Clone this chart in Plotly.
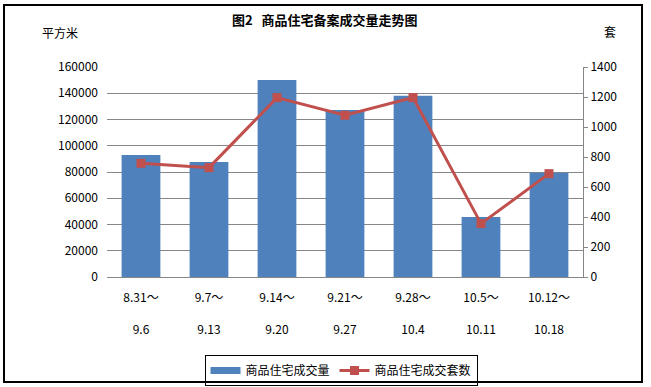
import plotly.graph_objects as go

categories = ["8.31～<br><br>9.6", "9.7～<br><br>9.13", "9.14～<br><br>9.20", "9.21～<br><br>9.27",
              "9.28～<br><br>10.4", "10.5～<br><br>10.11", "10.12～<br><br>10.18"]
area_values = [93000, 87600, 150100, 127200, 138100, 45700, 79500]
unit_values = [758, 729, 1196, 1078, 1196, 356, 689]

FONT = "Noto Sans CJK SC"
W, H = 651, 387
L, R, T, B = 107, 583, 67, 277

def px2x(px):
    return (px - L) / (R - L)

def px2y(py):
    return (B - py) / (B - T)

xs = list(range(len(categories)))

fig = go.Figure()
fig.add_trace(go.Bar(
    x=xs, y=area_values, name="商品住宅成交量", showlegend=False,
    marker=dict(color="#4F81BD", line=dict(width=0)), yaxis="y",
))
# legend proxy for the bars (wide rectangle swatch)
fig.add_trace(go.Scatter(
    x=[None], y=[None], name="商品住宅成交量", mode="lines",
    line=dict(color="#4F81BD", width=7), yaxis="y",
))
fig.add_trace(go.Scatter(
    x=xs, y=unit_values, name="商品住宅成交套数",
    mode="lines+markers", yaxis="y2",
    line=dict(color="#C0504D", width=3),
    marker=dict(symbol="square", size=9, color="#C0504D"),
))

fig.update_layout(
    width=W, height=H,
    margin=dict(l=L, r=W - R, t=T, b=H - B, autoexpand=False),
    paper_bgcolor="white", plot_bgcolor="white",
    font=dict(family=FONT, size=12, color="black"),
    bargap=0.43,
    showlegend=True,
    legend=dict(orientation="h", x=px2x(341), xanchor="center", y=px2y(355), yanchor="top",
                bordercolor="black", borderwidth=1, font=dict(size=12, family=FONT),
                itemwidth=30, tracegroupgap=0),
    xaxis=dict(
        range=[-0.5, len(categories) - 0.5], automargin=False,
        tickmode="array", tickvals=xs, ticktext=categories,
        showgrid=False, showline=True, linecolor="#868686", linewidth=1,
        ticks="", tickfont=dict(size=12), zeroline=False,
        ticklabelstandoff=10,
    ),
    yaxis=dict(
        range=[0, 160000], tickvals=list(range(0, 160001, 20000)), tickformat="d",
        showgrid=True, gridcolor="#868686", gridwidth=1, automargin=False,
        showline=False, ticks="", tickfont=dict(size=12),
        ticklabelstandoff=8, zeroline=False,
    ),
    yaxis2=dict(
        range=[0, 1400], tickvals=list(range(0, 1401, 200)), tickformat="d",
        overlaying="y", side="right", showgrid=False, automargin=False,
        showline=True, linecolor="#868686", linewidth=1,
        ticks="outside", ticklen=4, tickcolor="#868686",
        tickfont=dict(size=12), zeroline=False,
    ),
    annotations=[
        dict(text="<b>图2   商品住宅备案成交量走势图</b>", x=px2x(325), y=px2y(20),
             xanchor="center", yanchor="middle",
             xref="paper", yref="paper", showarrow=False, font=dict(size=13, family=FONT)),
        dict(text="平方米", x=px2x(60), y=px2y(33), xanchor="center", yanchor="middle",
             xref="paper", yref="paper",
             showarrow=False, font=dict(size=12, family=FONT)),
        dict(text="套", x=px2x(610), y=px2y(32), xanchor="center", yanchor="middle",
             xref="paper", yref="paper",
             showarrow=False, font=dict(size=12, family=FONT)),
    ],
)

post = (
    "document.documentElement.style.margin='0';"
    "document.body.style.margin='0';document.body.style.overflow='hidden';"
    "var b=document.createElement('div');"
    "b.style.cssText='position:fixed;left:3px;top:4px;width:640px;height:379px;"
    "box-sizing:border-box;border:2px solid black;pointer-events:none;z-index:10;';"
    "document.body.appendChild(b);"
)
fig.write_html("out.html", config={"displayModeBar": False}, post_script=post)
